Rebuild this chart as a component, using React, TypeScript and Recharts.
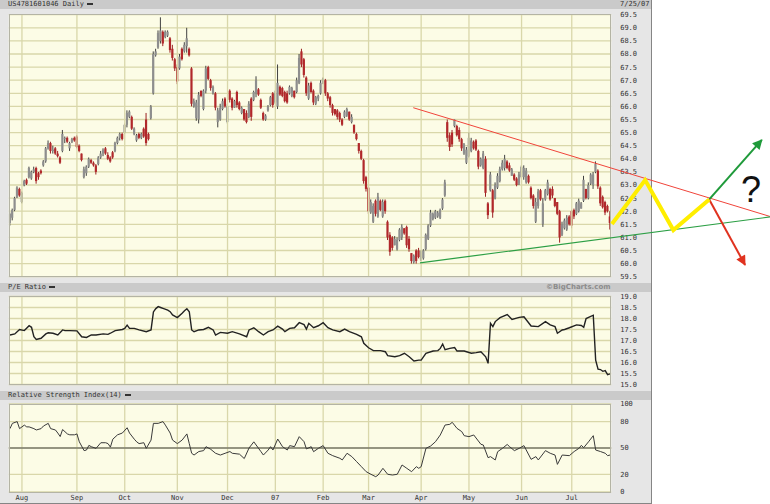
import React from 'react';
import { ComposedChart, Bar, Line, XAxis, YAxis, CartesianGrid, ReferenceLine } from 'recharts';

// ---------- data ----------
const monthTicks = [5, 28, 48, 70, 91, 111, 131, 150, 172, 192, 214, 235];
const monthLabels = ['Aug', 'Sep', 'Oct', 'Nov', 'Dec', '07', 'Feb', 'Mar', 'Apr', 'May', 'Jun', 'Jul'];

const opens = [61.55,61.75,62.05,62.55,62.85,62.35,63.0,63.2,63.3,63.25,63.5,63.65,63.45,63.55,63.75,63.9,64.4,64.6,64.3,64.4,64.2,64.05,64.3,64.75,64.8,64.4,64.65,64.8,64.85,64.5,64.2,63.3,63.45,63.7,63.95,63.85,63.75,63.8,64.05,64.2,64.4,64.15,64.05,64.25,64.3,64.6,64.8,64.95,65.0,65.3,65.6,65.6,64.95,64.7,64.95,64.8,65.15,65.5,64.95,65.55,66.5,67.95,68.25,68.5,68.85,68.65,68.7,68.6,68.2,67.8,67.5,67.45,68.2,68.1,68.3,68.2,67.45,66.0,65.55,65.5,66.6,65.9,66.6,67.5,67.0,66.5,66.5,65.4,65.5,65.9,66.3,65.4,66.6,66.3,65.95,66.55,66.15,65.75,65.9,65.75,65.6,66.3,66.25,66.5,66.65,66.25,65.75,65.5,65.85,66.05,66.5,66.15,66.0,66.75,66.7,66.55,66.5,66.5,66.4,66.6,66.55,66.9,68.1,67.8,67.1,66.3,66.9,66.6,66.1,66.3,66.5,66.9,67.0,66.5,66.35,66.05,65.9,65.85,65.75,65.5,65.6,65.65,65.8,65.4,65.3,64.95,64.6,64.3,63.95,63.3,62.9,61.95,61.6,62.4,61.8,62.4,61.8,62.4,61.6,61.1,61.0,60.7,60.55,60.9,61.0,61.35,61.4,60.95,60.4,60.05,60.5,60.5,60.15,60.2,60.55,60.95,61.45,61.7,61.75,61.8,61.75,62.1,62.6,65.4,64.9,65.0,65.25,65.25,65.1,64.75,64.2,63.85,64.1,64.3,64.65,64.7,64.3,63.75,63.65,64.0,62.3,62.8,62.8,62.5,62.9,63.15,63.6,63.65,63.9,63.75,63.35,63.4,63.25,63.05,63.3,63.3,63.1,63.35,62.9,62.6,61.6,62.2,62.8,61.5,62.45,62.65,62.85,62.85,62.5,62.35,62.0,61.1,61.35,61.3,61.8,62.0,62.05,61.9,62.0,62.1,62.4,62.85,62.5,63.05,63.0,63.5,63.55,62.9,62.55,62.35,62.2,61.8];
const highs = [61.95,62.1,62.55,62.95,62.9,62.75,63.2,63.25,63.7,63.55,63.7,63.7,63.5,63.6,63.95,64.45,64.7,64.65,64.5,64.45,64.3,64.1,65.1,64.85,64.85,64.65,64.8,64.85,64.9,64.55,64.2,63.7,63.75,64.05,64.0,63.9,63.8,64.1,64.3,64.4,64.45,64.25,64.1,64.3,64.65,64.85,65.0,65.0,65.35,65.85,65.85,65.65,65.2,64.95,65.0,65.0,65.2,65.75,65.0,66.05,68.1,68.2,68.9,69.4,68.9,68.9,68.9,68.65,68.35,67.85,67.6,68.0,68.25,68.45,69.0,68.25,67.5,66.3,66.25,66.55,66.6,66.65,67.55,67.55,67.05,66.8,66.55,65.95,66.1,66.3,66.35,66.1,66.65,66.35,66.25,66.6,66.2,66.0,65.9,65.85,66.2,66.35,66.6,67.15,66.7,66.3,65.8,65.7,66.05,66.4,66.55,66.6,67.6,66.8,66.75,66.6,66.6,66.8,66.75,66.6,67.1,68.0,68.2,67.85,67.15,66.9,66.95,66.65,66.4,66.45,67.0,67.1,67.05,66.55,66.4,66.1,65.9,65.9,65.8,65.55,65.85,65.95,65.8,65.7,65.3,65.0,64.6,64.35,64.0,63.35,62.95,62.45,62.3,62.45,62.7,62.45,62.45,62.45,61.65,61.2,61.05,61.05,61.0,61.35,61.5,61.35,61.45,61.05,60.4,60.35,60.55,60.6,60.5,60.55,61.15,61.5,62.05,61.95,62.05,62.0,62.1,62.5,63.2,65.5,65.0,65.1,65.5,65.3,65.2,64.8,64.6,64.45,65.0,64.8,64.7,64.75,64.35,64.05,64.3,64.1,62.35,63.5,62.85,63.1,63.45,63.7,63.95,64.15,63.95,63.85,63.65,63.45,63.3,63.5,63.75,63.75,63.65,63.4,62.95,62.65,62.5,62.85,62.85,62.5,62.85,63.2,62.9,62.95,62.5,62.35,62.05,61.6,61.72,61.85,61.85,62.05,62.1,62.35,62.48,62.35,63.35,62.85,63.1,63.45,63.5,63.9,63.6,62.95,62.6,62.4,62.25,62.0];
const lows = [61.45,61.65,62.0,62.5,62.55,62.3,62.95,63.0,63.25,63.2,63.45,63.05,63.2,63.4,63.7,63.85,64.35,64.2,64.2,64.15,64.05,63.8,64.25,64.6,64.6,64.3,64.6,64.65,64.4,64.25,63.9,63.25,63.35,63.65,63.8,63.7,63.4,63.75,64.0,64.1,64.15,63.95,63.85,64.0,64.25,64.55,64.7,64.7,64.95,65.2,65.55,65.1,64.9,64.65,64.75,64.75,64.8,64.5,64.7,65.5,66.45,67.9,68.2,68.4,68.3,68.6,68.65,68.05,67.75,67.35,66.85,67.4,67.75,68.05,68.05,67.9,66.0,65.95,65.45,65.35,66.35,65.85,66.5,67.0,66.6,66.45,65.85,65.2,65.45,65.85,65.95,65.35,66.15,65.85,65.95,65.95,65.85,65.7,65.45,65.35,65.55,65.45,66.2,66.35,66.4,65.9,65.45,65.45,65.8,66.0,65.95,66.1,65.9,66.4,66.35,66.15,66.1,66.45,66.35,66.3,66.5,66.85,67.5,67.1,66.4,66.25,66.5,66.05,66.05,66.2,66.45,66.85,66.4,66.2,65.95,65.65,65.65,65.5,65.4,65.25,65.55,65.6,65.45,65.35,64.95,64.7,64.2,63.95,63.05,62.75,61.9,61.9,61.55,61.8,61.75,62.0,61.75,61.9,60.9,60.3,60.5,60.7,60.5,60.85,60.9,61.1,60.6,60.45,60.0,60.0,60.0,60.2,60.1,60.15,60.5,60.9,61.4,61.65,61.7,61.75,61.7,62.05,62.55,64.65,64.3,64.45,65.2,64.85,64.65,64.3,64.15,63.8,64.05,64.25,64.35,64.3,63.6,63.7,63.6,62.55,61.7,62.75,61.75,62.45,62.85,63.1,63.55,63.55,63.6,63.5,63.35,63.15,62.95,63.0,63.25,63.2,63.05,63.05,62.45,62.1,61.55,62.1,62.4,61.4,62.4,62.6,62.4,62.5,62.15,61.85,60.8,61.05,61.3,61.25,61.45,61.35,61.7,61.85,61.95,62.1,62.35,62.45,62.45,63.0,62.85,63.45,62.85,62.2,62.1,61.85,61.95,61.3];
const closes = [61.9,62.05,62.5,62.9,62.6,62.7,63.15,63.05,63.65,63.5,63.6,63.15,63.3,63.45,63.9,64.4,64.6,64.3,64.35,64.2,64.1,63.85,64.95,64.8,64.65,64.6,64.75,64.7,64.45,64.3,63.95,63.6,63.7,64.0,63.85,63.75,63.5,64.05,64.2,64.35,64.2,64.0,63.9,64.05,64.6,64.8,64.95,64.75,65.3,65.75,65.8,65.15,65.15,64.9,64.8,64.95,64.85,64.6,64.75,66.0,68.0,68.1,68.8,68.9,68.4,68.85,68.85,68.15,67.85,67.45,66.95,67.9,67.8,68.35,68.6,67.95,66.1,66.2,66.15,66.45,66.4,66.6,67.45,67.05,66.7,66.75,65.95,65.85,65.95,66.2,66.0,66.0,66.25,65.95,66.2,66.05,65.9,65.95,65.5,65.4,66.1,65.6,66.55,67.0,66.45,65.95,65.5,65.65,66.0,66.35,66.05,66.5,66.9,66.45,66.4,66.2,66.15,66.75,66.7,66.35,67.0,67.85,67.6,67.2,66.5,66.8,66.55,66.15,66.35,66.4,66.9,67.05,66.5,66.3,66.05,65.75,65.7,65.6,65.5,65.3,65.8,65.9,65.5,65.6,65.0,64.75,64.3,64.0,63.15,62.85,62.0,62.35,62.2,61.9,62.55,62.05,62.35,62.0,61.0,60.45,60.6,60.95,60.9,61.3,61.4,61.15,60.7,60.55,60.1,60.3,60.1,60.25,60.45,60.5,61.1,61.45,61.95,61.9,62.0,61.95,62.05,62.45,63.1,64.8,64.45,64.55,65.5,64.9,64.75,64.4,64.55,64.35,64.8,64.7,64.4,64.35,63.7,64.0,64.2,62.7,61.85,63.4,61.95,63.0,63.35,63.6,63.85,64.0,63.65,63.55,63.6,63.2,63.0,63.4,63.7,63.65,63.55,63.1,62.5,62.2,62.35,62.75,62.45,62.3,62.8,63.1,62.45,62.6,62.2,61.9,61.0,61.5,61.65,61.75,61.5,61.45,61.8,62.3,62.4,62.3,63.2,62.5,63.0,63.4,63.4,63.8,62.95,62.3,62.15,61.95,62.0,61.55];

const priceTicks = [59.5,60,60.5,61,61.5,62,62.5,63,63.5,64,64.5,65,65.5,66,66.5,67,67.5,68,68.5,69,69.5];
const peTicks = [15,15.5,16,16.5,17,17.5,18,18.5,19];
const rsiTicks = [0,20,50,80,100];

const peDays = [0,2,4,6,8,9,10,11,13,15,16,18,20,22,23,25,28,30,32,34,36,39,41,42,44,47,48,49,50,52,54,57,59,60,61,62,63,64,66,67,68,70,72,73,74,75,76,77,79,81,83,85,86,88,91,93,96,99,100,102,104,106,108,110,112,114,115,117,119,121,123,124,125,127,129,131,133,135,138,140,142,145,147,148,150,152,155,157,158,161,163,165,167,169,171,172,174,177,179,180,181,182,184,186,187,190,193,195,197,199,200,201,202,203,205,208,210,213,215,218,221,224,226,228,229,231,232,234,237,239,240,241,244,245,246,247,248,249,250,251];
const peValues = [17.25,17.3,17.5,17.45,17.67,17.6,17.17,17.05,17.1,17.3,17.35,17.33,17.25,17.48,17.45,17.45,17.44,17.17,17.14,17.25,17.25,17.3,17.28,17.33,17.45,17.5,17.55,17.7,17.55,17.55,17.48,17.4,17.48,18.3,18.45,18.54,18.5,18.46,18.38,18.31,18.16,18.04,18.24,18.35,18.44,18.31,17.48,17.4,17.48,17.5,17.6,17.48,17.25,17.37,17.33,17.4,17.3,17.17,17.48,17.58,17.4,17.25,17.4,17.48,17.65,17.52,17.4,17.55,17.58,17.81,17.72,17.52,17.78,17.58,17.67,17.81,17.58,17.48,17.4,17.52,17.4,17.28,17.17,16.87,16.67,16.54,16.54,16.49,16.31,16.26,16.31,16.42,16.26,16.07,16.11,16.11,16.42,16.52,16.54,16.64,16.84,16.58,16.64,16.68,16.52,16.52,16.42,16.45,16.49,16.26,15.96,17.78,17.63,17.86,18.04,18.18,17.96,18.05,18.08,17.66,17.63,17.86,17.71,17.63,17.33,17.48,17.5,17.58,17.71,17.68,17.6,18.0,18.15,16.11,15.7,15.68,15.6,15.63,15.45,15.48];

const rsiDays = [0,1,3,4,6,7,8,10,11,13,14,16,17,19,20,21,22,24,25,27,28,29,31,32,33,34,36,38,40,41,42,43,45,47,49,50,52,53,54,56,57,59,60,62,64,65,67,68,70,72,74,75,76,77,79,81,82,84,86,88,90,92,93,96,98,100,102,105,106,108,109,110,112,114,116,117,119,121,123,124,126,127,129,131,133,135,138,139,141,143,145,147,149,151,153,154,156,158,160,162,164,166,168,170,171,172,174,176,178,180,182,184,185,187,189,190,192,194,197,198,200,201,203,204,206,208,209,211,213,215,218,220,221,224,226,228,229,231,234,236,238,239,240,242,244,245,247,249,250,251];
const rsiValues = [72,78,80,72,76,74,74,72,70.5,72,75,78,72,70.5,67,63,71,66,65,65,66,57,47,47.7,53,51.5,49.6,56,56,55,51,60,65,67,73,67,60,57,55,56,49.6,59,78,78,80,76,67,59,55,59,66,55,44,42,46,47,51.5,48.5,44,42,44,46,44,43,38,50,57,45.8,42,47.7,51.5,47.7,60.2,51.5,47.7,52.7,51.5,62.9,57.2,48.9,51.5,45.8,49.6,52.7,44,41.3,38.3,36.4,44,40.2,34.5,28.8,23.1,20.1,17.4,19.3,26.9,20.1,19.3,20.1,30.7,26.9,23.1,28.8,26.9,28.8,49.6,52.3,57.2,64.8,76.1,76.9,79.2,72.3,68.6,64,62.9,64.8,54.2,53.4,39,40.2,36.4,45.8,49.6,54,51.5,47,49.6,52.7,37.1,40.2,36.4,47,44,42,31.4,42,41.3,46,49.6,53,50.4,57,64,47.7,46,44,41.3,42];

// hand-drawn annotation (trading-day index, price)
const resistanceDays = [168.7, 317.9];
const resistancePrices = [65.95, 61.8];
const supportDays = [171.5, 317.9];
const supportPrices = [60.03, 61.78];
const zigzagDays = [251.8, 265.7, 277.5, 292.5];
const zigzagPrices = [61.51, 63.19, 61.28, 62.45];
const upArrowDays = [292.5, 314.5];
const upArrowPrices = [62.45, 64.72];
const downArrowDays = [292.5, 307.5];
const downArrowPrices = [62.45, 59.95];

// ---------- derived tables ----------
const candleData = opens.map((o, i) => ({ day: i, open: o, high: highs[i], low: lows[i], close: closes[i] }));
const peData = peDays.map((d, k) => ({ day: d, pe: peValues[k] }));
const rsiData = rsiDays.map((d, k) => ({ day: d, rsi: rsiValues[k] }));
const pts = (days: number[], prices: number[]) => days.map((d, k) => ({ day: d, price: prices[k] }));
const resistanceData = pts(resistanceDays, resistancePrices);
const supportData = pts(supportDays, supportPrices);
const zigzagData = pts(zigzagDays, zigzagPrices);
const upArrowData = pts(upArrowDays, upArrowPrices);
const downArrowData = pts(downArrowDays, downArrowPrices);

// ---------- layout ----------
const FONT = '"DejaVu Sans Mono", monospace';
const PLOT_L = 8.8;
const PLOT_R = 611.2;
const FRAME_W = 652;
const X_DOMAIN: [number, number] = [-0.5, 251.5];
const pxPerDay = (PLOT_R - PLOT_L) / (X_DOMAIN[1] - X_DOMAIN[0]);
const OVERLAY_W = 770;
const overlayMax = X_DOMAIN[0] + (OVERLAY_W - PLOT_L) / pxPerDay;
const AXIS_W = FRAME_W - PLOT_R - 0.8;

const GRID = '#D9D7AA';
const PLOT_BG = '#FCFCE6';
const tickStyle = { fontSize: 7, fill: '#333', fontFamily: FONT };

function Candle(props: any) {
  const { x, y, width, height, payload } = props;
  if (!payload || x == null) return null;
  const top = Math.min(y, y + height);
  const h = Math.abs(height);
  const { open, close, high, low } = payload;
  const span = high - low || 1;
  const pix = (v: number) => top + ((high - v) / span) * h;
  const cx = x + width / 2;
  const up = close >= open;
  const bTop = pix(Math.max(open, close));
  const bBot = pix(Math.min(open, close));
  const body = up ? '#8e8e8e' : '#b1282b';
  const wick = up ? '#404040' : '#9a2022';
  return (
    <g>
      <line x1={cx} x2={cx} y1={top} y2={top + h} stroke={wick} strokeWidth={1} />
      <rect x={cx - 1.1} width={2.2} y={bTop} height={Math.max(bBot - bTop, 0.8)} fill={body} />
    </g>
  );
}

const hiddenX = (
  <XAxis type="number" dataKey="day" domain={X_DOMAIN} ticks={monthTicks} allowDataOverflow
    tick={false} tickLine={false} axisLine={false} height={0} />
);

const monthLines = monthTicks.map((m) => (
  <ReferenceLine key={'m' + m} x={m} stroke={GRID} strokeWidth={1.3} />
));

function Strip({ top, left, children, right }: any) {
  return (
    <div style={{ position: 'absolute', left: 0, top, width: FRAME_W - 1.5, height: 9, background: '#CACACA' }}>
      <div style={{ position: 'absolute', left, top: 0, height: 9, lineHeight: '9px', fontSize: 7, color: '#333', fontFamily: FONT, whiteSpace: 'nowrap' }}>
        {children}
        <span style={{ display: 'inline-block', width: 6, height: 2, background: '#333', marginLeft: 3, verticalAlign: 'middle' }} />
      </div>
      {right}
    </div>
  );
}

function PlotBorder({ top, height }: any) {
  return (
    <div style={{ position: 'absolute', left: PLOT_L, top, width: PLOT_R - PLOT_L, height, border: '1px solid #B4B4A4', boxSizing: 'border-box', pointerEvents: 'none' }} />
  );
}

export default function App() {
  return (
    <div style={{ position: 'absolute', left: 0, top: 0, width: 770, height: 504, background: '#ffffff', overflow: 'hidden', fontFamily: FONT }}>
      {/* frame */}
      <div style={{ position: 'absolute', left: 0, top: 0, width: FRAME_W - 1.5, height: 502.5, background: '#E6E6E6', borderRight: '1.5px solid #858585', borderBottom: '1.5px solid #858585' }} />
      <Strip top={0} left={8}
        right={<div style={{ position: 'absolute', left: 620, top: 0, lineHeight: '9px', fontSize: 7, color: '#333' }}>7/25/07</div>}>
        US4781601046 Daily
      </Strip>
      <Strip top={283} left={8}
        right={<div style={{ position: 'absolute', right: 40, top: 0, lineHeight: '9px', fontSize: 7, color: '#8c8c8c', fontWeight: 'bold', fontFamily: '"DejaVu Sans", sans-serif' }}>©BigCharts.com</div>}>
        P/E Ratio
      </Strip>
      <Strip top={391} left={8}>Relative Strength Index(14)</Strip>

      {/* price panel */}
      <div style={{ position: 'absolute', left: 0, top: 0 }}>
        <ComposedChart width={FRAME_W} height={282} data={candleData} margin={{ top: 14.7, right: 0.8, bottom: 5.3, left: PLOT_L }}>
          <CartesianGrid fill={PLOT_BG} stroke={GRID} strokeWidth={1.3} vertical={false} />
          {hiddenX}
          <YAxis type="number" orientation="right" domain={[59.5, 69.5]} ticks={priceTicks} interval={0} allowDataOverflow
            width={AXIS_W} tickSize={0} tickMargin={9} axisLine={false} tick={tickStyle}
            tickFormatter={(v: number) => v.toFixed(1)} />
          {monthLines}
          <Bar dataKey={(d: any) => [d.low, d.high]} barSize={2} isAnimationActive={false}
            shape={(p: any) => <Candle {...p} />} />
        </ComposedChart>
      </div>
      <PlotBorder top={14.2} height={263} />

      {/* P/E panel */}
      <div style={{ position: 'absolute', left: 0, top: 290 }}>
        <ComposedChart width={FRAME_W} height={100} data={peData} margin={{ top: 6.5, right: 0.8, bottom: 5.5, left: PLOT_L }}>
          <CartesianGrid fill={PLOT_BG} stroke={GRID} strokeWidth={1.3} vertical={false} />
          {hiddenX}
          <YAxis type="number" orientation="right" domain={[15, 19]} ticks={peTicks} interval={0} allowDataOverflow
            width={AXIS_W} tickSize={0} tickMargin={9} axisLine={false} tick={tickStyle}
            tickFormatter={(v: number) => v.toFixed(1)} />
          {monthLines}
          <Line dataKey="pe" type="linear" stroke="#222" strokeWidth={1.4} dot={false} isAnimationActive={false} />
        </ComposedChart>
      </div>
      <PlotBorder top={296} height={89} />

      {/* RSI panel */}
      <div style={{ position: 'absolute', left: 0, top: 398 }}>
        <ComposedChart width={FRAME_W} height={106} data={rsiData} margin={{ top: 6, right: 0.8, bottom: 0, left: PLOT_L }}>
          <CartesianGrid fill={PLOT_BG} stroke={GRID} strokeWidth={1.3} vertical={false} />
          <XAxis type="number" dataKey="day" domain={X_DOMAIN} ticks={monthTicks} interval={0} allowDataOverflow
            height={12} tickSize={0} tickMargin={3} axisLine={false} tick={tickStyle}
            tickFormatter={(v: number) => monthLabels[monthTicks.indexOf(v)]} />
          <YAxis type="number" orientation="right" domain={[0, 100]} ticks={rsiTicks} interval={0} allowDataOverflow
            width={AXIS_W} tickSize={0} tickMargin={9} axisLine={false} tick={tickStyle} />
          {monthLines}
          <ReferenceLine y={50} stroke="#4a4a4a" strokeWidth={1.2} />
          <Line dataKey="rsi" type="linear" stroke="#3a3a3a" strokeWidth={1} dot={false} isAnimationActive={false} />
        </ComposedChart>
      </div>
      <PlotBorder top={403.5} height={89} />

      {/* annotations */}
      <svg width={770} height={504} style={{ position: 'absolute', left: 0, top: 0, pointerEvents: 'none' }}>
        <defs>
          <marker id="arrowGreen" viewBox="0 0 10 10" refX="9" refY="5" markerWidth="5.5" markerHeight="5" orient="auto" markerUnits="strokeWidth">
            <path d="M0,0 L10,5 L0,10 z" fill="#1f9a3a" />
          </marker>
          <marker id="arrowRed" viewBox="0 0 10 10" refX="9" refY="5" markerWidth="5.5" markerHeight="5" orient="auto" markerUnits="strokeWidth">
            <path d="M0,0 L10,5 L0,10 z" fill="#e0321f" />
          </marker>
        </defs>
        <text x={751} y={202} fontSize={36} textAnchor="middle" fill="#111" fontFamily='"Liberation Sans", Arial, sans-serif'>?</text>
      </svg>
      <div style={{ position: 'absolute', left: 0, top: 0 }}>
        <ComposedChart width={OVERLAY_W} height={282} margin={{ top: 14.7, right: 0, bottom: 5.3, left: PLOT_L }}>
          <XAxis type="number" dataKey="day" domain={[X_DOMAIN[0], overlayMax]} hide allowDataOverflow />
          <YAxis type="number" domain={[59.5, 69.5]} hide allowDataOverflow />
          <Line data={resistanceData} dataKey="price" stroke="#f0443a" strokeWidth={1} dot={false} isAnimationActive={false} />
          <Line data={supportData} dataKey="price" stroke="#2c9f45" strokeWidth={1.2} dot={false} isAnimationActive={false} />
          <Line data={upArrowData} dataKey="price" stroke="#1f9a3a" strokeWidth={2} dot={false} isAnimationActive={false} markerEnd="url(#arrowGreen)" />
          <Line data={downArrowData} dataKey="price" stroke="#e0321f" strokeWidth={2} dot={false} isAnimationActive={false} markerEnd="url(#arrowRed)" />
          <Line data={zigzagData} dataKey="price" stroke="#FFEE00" strokeWidth={4} strokeLinejoin="miter" dot={false} isAnimationActive={false} />
        </ComposedChart>
      </div>
    </div>
  );
}
